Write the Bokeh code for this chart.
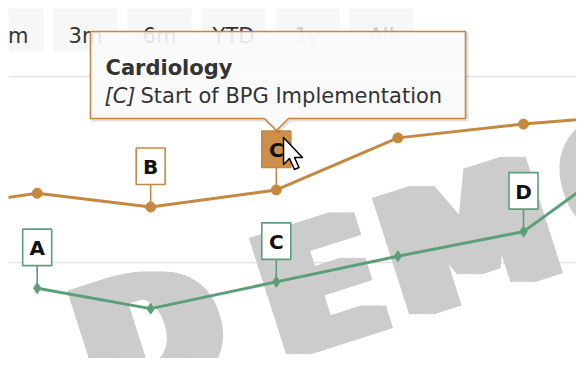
import pandas as pd
from bokeh.plotting import figure
from bokeh.models import Range1d, Grid, FixedTicker
from bokeh.core.properties import value
from bokeh.embed import file_html
from bokeh.resources import INLINE

# ---------------- data ----------------
card_dates = ["2019-01-01", "2019-02-01", "2019-03-01", "2019-04-01", "2019-05-01", "2019-06-01", "2019-07-01"]
card_values = [63.7, 68.6, 64.9, 69.5, 83.5, 87.2, 89.9]
second_dates = ["2019-02-01", "2019-03-01", "2019-04-01", "2019-05-01", "2019-06-01", "2019-07-01"]
second_values = [43.1, 37.6, 44.8, 51.7, 58.3, 81.9]

card_flag_dates = ["2019-03-01", "2019-04-01"]
card_flag_titles = ["B", "C"]
card_flag_hover = [False, True]
second_flag_dates = ["2019-02-01", "2019-04-01", "2019-06-01"]
second_flag_titles = ["A", "C", "D"]

grid_ticks = [0, 50, 100, 150]
buttons = ["1m", "3m", "6m", "YTD", "1y", "All"]
buttons_enabled = [True, True, True, True, False, False]

tooltip_series = "Cardiology"
tooltip_flag = "[C]"
tooltip_text = "Start of BPG Implementation"
watermark_letters = ["D", "E", "M", "O"]

ORANGE = "#c6883f"
ORANGE_HOVER = "#cf8f4c"
GREEN = "#5b9f7a"
FONT = value("DejaVu Sans")

# ---------------- scales ----------------
W, H = 576, 358
LEFT = 8                 # white strip on the left, as in the reference
DAY_PX = 4.0525          # pixels per day
PX_PER_UNIT = 3.72       # pixels per value unit
feb1 = pd.Timestamp("2019-02-01")
x_start = feb1 - pd.Timedelta(days=(36.7 - LEFT) / DAY_PX)
x_end = x_start + pd.Timedelta(days=(W - LEFT) / DAY_PX)
Y_TOP = 50 + 262 / PX_PER_UNIT
Y_BOT = Y_TOP - H / PX_PER_UNIT


def X(px):
    """picture pixel x -> data x"""
    return x_start + pd.Timedelta(days=(px - LEFT) / DAY_PX)


def Y(py):
    """picture pixel y -> data y"""
    return Y_TOP - py / PX_PER_UNIT


def dpx(n):
    return n / PX_PER_UNIT


p = figure(width=W, height=H, x_range=Range1d(x_start, x_end), y_range=Range1d(Y_BOT, Y_TOP),
           x_axis_location=None, y_axis_location=None, toolbar_location=None,
           output_backend="svg", min_border=0, min_border_left=LEFT, min_border_right=0,
           min_border_top=0, min_border_bottom=0)
p.outline_line_color = None
p.background_fill_color = "white"
p.border_fill_color = "white"
p.grid.visible = False
p.add_layout(Grid(dimension=1, ticker=FixedTicker(ticks=grid_ticks),
                  grid_line_color="#e3e3e3", grid_line_width=1.5))

# watermark, letter by letter along a rising line; a few slightly shifted copies
# give the wide, heavy look of the reference's stretched watermark
wm_px = [150, 320, 468, 636]
wm_py = [335, 286, 238, 176]
for shift in range(-12, 13, 3):
    p.text(x=[X(v + shift) for v in wm_px], y=[Y(v) for v in wm_py], text=watermark_letters,
           angle=0.31, text_align="center", text_baseline="middle", text_font=FONT,
           text_font_style="bold", text_font_size=value("168px"), text_color="#cccccc")

cd = pd.to_datetime(card_dates)
sd = pd.to_datetime(second_dates)

# series lines
p.line(cd, card_values, line_color=ORANGE, line_width=3)
p.scatter(cd, card_values, size=10, fill_color=ORANGE, line_color=ORANGE)
p.line(sd, second_values, line_color=GREEN, line_width=3)
p.scatter(sd, second_values, marker="diamond", size=11, fill_color=GREEN, line_color=GREEN)

STEM = 22.5
BOX_W, BOX_H = 29, 36.5


def flags(dates, titles, series_dates, series_vals, color, hover):
    lookup = dict(zip(pd.to_datetime(series_dates), series_vals))
    fx = pd.to_datetime(dates)
    fy = [lookup[d] for d in fx]
    p.segment(x0=fx, y0=fy, x1=fx, y1=[v + dpx(STEM) for v in fy], line_color=color, line_width=1.6)
    fills = [ORANGE_HOVER if h else "white" for h in hover]
    p.rect(x=fx, y=[v + dpx(STEM + BOX_H / 2) for v in fy], width=BOX_W, height=BOX_H,
           width_units="screen", height_units="screen", fill_color=fills,
           line_color=color, line_width=1.6)
    p.text(x=fx, y=[v + dpx(STEM + BOX_H / 2 - 1) for v in fy], text=titles, text_align="center",
           text_baseline="middle", text_font=FONT, text_font_style="bold",
           text_font_size=value("20px"), text_color="#111111")


flags(card_flag_dates, card_flag_titles, card_dates, card_values, ORANGE, card_flag_hover)
flags(second_flag_dates, second_flag_titles, second_dates, second_values, GREEN,
      [False] * len(second_flag_titles))

# range selector buttons
bx = [11 + 74 * i for i in range(len(buttons))]
p.rect(x=[X(c) for c in bx], y=[Y(30)] * len(bx), width=64, height=44,
       width_units="screen", height_units="screen", fill_color="#f7f7f7", line_color=None)
p.text(x=[X(c) for c in bx], y=[Y(35)] * len(bx), text=buttons, text_align="center",
       text_baseline="alphabetic", text_font=FONT, text_font_size=value("21px"),
       text_color=["#333333" if e else "#cccccc" for e in buttons_enabled])

# tooltip
tx = [90, 465, 465, 288, 276, 264, 90]
ty = [31, 31, 118, 118, 130, 118, 118]
p.patch([X(v + 1.5) for v in tx], [Y(v + 1.5) for v in ty], fill_color=None,
        line_color="black", line_alpha=0.12, line_width=3)
p.patch([X(v) for v in tx], [Y(v) for v in ty], fill_color="#f9f9f9", fill_alpha=0.9,
        line_color=ORANGE, line_width=1.6)
p.text(x=[X(105)], y=[Y(67.5)], text=[tooltip_series], text_font=FONT, text_font_style="bold",
       text_font_size=value("21px"), text_color="#333333", text_baseline="alphabetic")
p.text(x=[X(104)], y=[Y(95.5)], text=[tooltip_flag], text_font=FONT, text_font_style="italic",
       text_font_size=value("21px"), text_color="#333333", text_baseline="alphabetic")
p.text(x=[X(140)], y=[Y(95.5)], text=[tooltip_text], text_font=FONT,
       text_font_size=value("21px"), text_color="#333333", text_baseline="alphabetic")

# mouse cursor
cx0, cy0 = 283, 137
cur_dx = [0, 0, 6, 11, 15.5, 11, 19]
cur_dy = [0, 27, 21, 32, 30, 20, 20]
p.patch([X(cx0 + d) for d in cur_dx], [Y(cy0 + d) for d in cur_dy], fill_color="white",
        line_color="black", line_width=1.5, line_join="round")

open("out.html", "w").write(file_html(p, INLINE))
